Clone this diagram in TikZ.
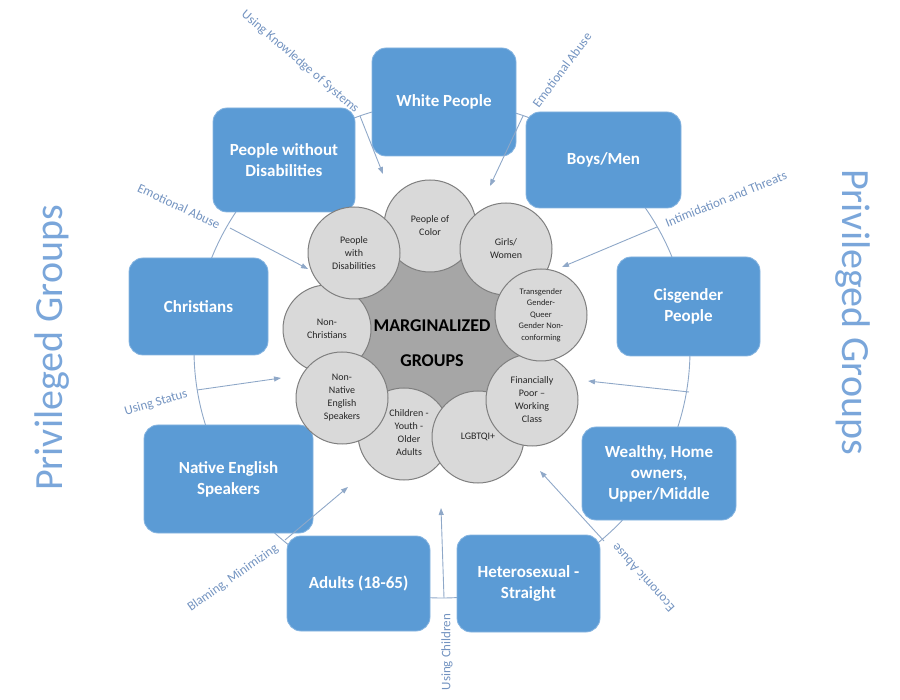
\documentclass[tikz,border=0pt]{standalone}
\usepackage{fontspec}
\setmainfont{Carlito}
\usetikzlibrary{arrows.meta}
\definecolor{boxblue}{HTML}{5B9BD5}
\definecolor{boxedge}{HTML}{86B4E0}
\definecolor{wheel}{HTML}{8FA8C8}
\definecolor{lbl}{HTML}{7393C0}
\definecolor{privtxt}{HTML}{7AA6DA}
\definecolor{cfill}{HTML}{D9D9D9}
\definecolor{cedge}{HTML}{7F7F7F}
\definecolor{core}{HTML}{A6A6A6}
\begin{document}
\begin{tikzpicture}[x=1pt,y=-1pt,
  pbox/.style={draw=boxedge, line width=0.8pt, fill=boxblue, rounded corners=14pt,
    text=white, font=\bfseries\fontsize{17}{21}\selectfont, align=center, inner sep=0pt},
  grp/.style={circle, draw=cedge, line width=1pt, fill=cfill, minimum size=92pt,
    inner sep=0pt, align=center, text=black!85, font=\fontsize{10}{13}\selectfont},
  grptext/.style={inner sep=0pt, align=center, text=black!85, font=\fontsize{10}{13}\selectfont},
  tactic/.style={text=lbl, font=\fontsize{13}{15}\selectfont, inner sep=0pt},
  link/.style={draw=wheel, line width=0.9pt, -{Triangle[length=7pt,width=5pt]}},
  priv/.style={text=privtxt, font=\fontsize{40}{46}\selectfont, inner sep=0pt},
]
\useasboundingbox (0,0) rectangle (900,700);

% outer wheel
\draw[wheel, line width=0.9pt] (442,350) circle[radius=248];

% privileged group boxes
\node[pbox, minimum width=144pt, minimum height=108pt] (white) at (444,102) {White People};
\node[pbox, minimum width=155pt, minimum height=96pt] (boys) at (603.5,160) {Boys/Men};
\node[pbox, minimum width=143pt, minimum height=99pt] (cis) at (688.5,306.5) {Cisgender\\People};
\node[pbox, minimum width=154pt, minimum height=93pt] (wealthy) at (659,473.5) {Wealthy, Home\\owners,\\Upper/Middle};
\node[pbox, minimum width=143pt, minimum height=97pt] (hetero) at (528.5,583.5) {Heterosexual -\\Straight};
\node[pbox, minimum width=143pt, minimum height=95pt] (adults) at (358.5,583.5) {Adults (18-65)};
\node[pbox, minimum width=169pt, minimum height=108pt] (native) at (228.5,479) {Native English\\Speakers};
\node[pbox, minimum width=139pt, minimum height=97pt] (christ) at (198.5,306.5) {Christians};
\node[pbox, minimum width=142pt, minimum height=104pt] (pwod) at (284,160) {People without\\Disabilities};

% connectors from wheel to centre
\coordinate (s1) at (360,116); \coordinate (e1) at (383,174);
\coordinate (s2) at (523,116); \coordinate (e2) at (490,186);
\coordinate (s3) at (657,227); \coordinate (e3) at (562,267);
\coordinate (s4) at (689,392); \coordinate (e4) at (588,381);
\coordinate (s5) at (604,541); \coordinate (e5) at (540,471);
\coordinate (s6) at (444,598); \coordinate (e6) at (441,508);
\coordinate (s7) at (285,540); \coordinate (e7) at (348,487);
\coordinate (s8) at (197,390); \coordinate (e8) at (281,378);
\coordinate (s9) at (230,228); \coordinate (e9) at (308,269);
\foreach \i in {1,...,9} {\draw[link] (s\i) -- (e\i);}

% tactic labels
\node[tactic, rotate=-40.5] (l1) at (300,62) {Using Knowledge of Systems};
\node[tactic, rotate=53.4] (l2) at (562,70) {Emotional Abuse};
\node[tactic, rotate=22] (l3) at (726,199) {Intimidation and Threats};
\node[tactic, rotate=132] (l5) at (643,578) {Economic Abuse};
\node[tactic, rotate=90] (l6) at (447,652) {Using Children};
\node[tactic, rotate=35] (l7) at (233,578) {Blaming, Minimizing};
\node[tactic, rotate=16] (l8) at (156,403) {Using Status};
\node[tactic, rotate=-25] (l9) at (179,206) {Emotional Abuse};

% marginalized groups
\coordinate (cpoc) at (430,226);
\coordinate (cgirl) at (506,249);
\coordinate (ctrans) at (541,315);
\coordinate (cfin) at (532,400);
\coordinate (clgbt) at (478,437);
\coordinate (cchild) at (404,434);
\coordinate (cnnes) at (342,398);
\coordinate (cnc) at (327,329);
\coordinate (cpwd) at (354,253);
\filldraw[fill=core, draw=cedge, line width=1pt] (cpoc) -- (cgirl) -- (ctrans) -- (cfin) -- (clgbt) -- (cchild) -- (cnnes) -- (cnc) -- (cpwd) -- cycle;

\node[grp] (child) at (cchild) {};
\node[grptext] (childt) at ([xshift=5pt,yshift=1pt]child.center) {Children -\\Youth -\\Older\\Adults};
\node[grp] (lgbt) at (clgbt) {LGBTQI+};
\node[grp] (fin) at (cfin) {Financially\\Poor --\\Working\\Class};
\node[grp] (poc) at (cpoc) {People of\\Color};
\node[grp] (girl) at (cgirl) {Girls/\\Women};
\node[grp, font=\fontsize{8.5}{11.5}\selectfont] (trans) at (ctrans) {Transgender\\Gender-\\Queer\\Gender Non-\\conforming};
\node[grp, minimum size=88pt] (nc) at (cnc) {Non-\\Christians};
\node[grp] (nnes) at (cnnes) {Non-\\Native\\English\\Speakers};
\node[grp] (pwd) at (cpwd) {People\\with\\Disabilities};

\node[font=\bfseries\fontsize{18}{35}\selectfont, align=center, text=black] (mg) at (432,343) {MARGINALIZED\\GROUPS};

% side titles
\node[priv, rotate=90] (pl) at (52,348) {Privileged Groups};
\node[priv, rotate=-90] (pr) at (853,312) {Privileged Groups};
\end{tikzpicture}
\end{document}
